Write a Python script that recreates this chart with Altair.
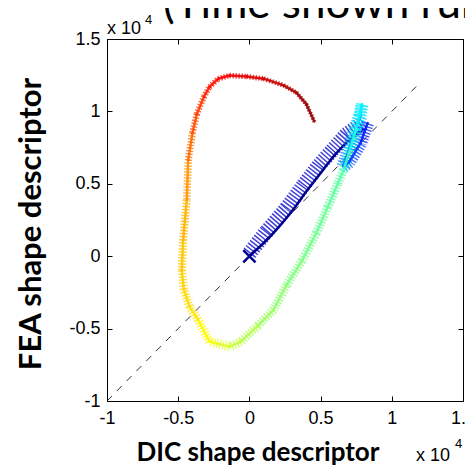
import altair as alt
import pandas as pd

# ---- data (units of 10^4) ----
x_ticks = [-1, -0.5, 0, 0.5, 1, 1.5]
y_ticks = [-1, -0.5, 0, 0.5, 1, 1.5]
diag_x = [-1, 1.2]
diag_y = [-1, 1.2]

# early (dark blue) part of the trajectory
core_x = [0.0, 0.15, 0.29, 0.41, 0.52, 0.60, 0.70, 0.80]
core_y = [0.0, 0.14, 0.30, 0.46, 0.60, 0.70, 0.80, 0.88]
hatch_x = [0.0, 0.12, 0.26, 0.38, 0.49, 0.58, 0.68, 0.80]
hatch_y = [0.02, 0.17, 0.33, 0.49, 0.63, 0.73, 0.84, 0.92]

# rest of the trajectory, coloured by normalised time t
path_x = [0.83, 0.78, 0.70, 0.66, 0.72, 0.78, 0.79, 0.75, 0.70, 0.66, 0.62, 0.55, 0.47,
          0.37, 0.26, 0.17, 0.06, -0.06, -0.14, -0.24, -0.28, -0.36, -0.42, -0.46, -0.475,
          -0.465, -0.44, -0.43, -0.40, -0.37, -0.32, -0.28, -0.22, -0.14, -0.02, 0.10,
          0.24, 0.33, 0.40, 0.456]
path_y = [0.92, 0.78, 0.65, 0.62, 0.80, 0.97, 1.05, 0.88, 0.72, 0.59, 0.50, 0.34, 0.16,
          -0.03, -0.20, -0.37, -0.48, -0.59, -0.625, -0.60, -0.59, -0.44, -0.35, -0.23, -0.10,
          0.11, 0.39, 0.66, 0.85, 0.98, 1.10, 1.17, 1.225, 1.248, 1.241, 1.226,
          1.18, 1.13, 1.05, 0.93]
path_t = [0.15, 0.18, 0.22, 0.25, 0.30, 0.34, 0.37, 0.40, 0.43, 0.46, 0.47, 0.48, 0.49,
          0.50, 0.515, 0.53, 0.55, 0.57, 0.59, 0.62, 0.63, 0.65, 0.66, 0.67, 0.68,
          0.70, 0.73, 0.77, 0.80, 0.82, 0.845, 0.86, 0.875, 0.89, 0.91, 0.93,
          0.95, 0.965, 0.98, 1.0]

start_x = [0.0]
start_y = [0.0]

jet_domain = [0, 0.125, 0.375, 0.625, 0.875, 1]
jet_range = ["#000080", "#0000ff", "#00ffff", "#ffff00", "#ff0000", "#800000"]


def segs(xs, ys, ts=None):
    df = pd.DataFrame({"x": xs, "y": ys})
    if ts is not None:
        df["t"] = ts
    df["x2"] = df["x"].shift(-1)
    df["y2"] = df["y"].shift(-1)
    return df.dropna()


path_df = segs(path_x, path_y, path_t)
core_df = pd.DataFrame({"x": core_x, "y": core_y})
hatch_df = segs(hatch_x, hatch_y)
diag_df = pd.DataFrame({"x": diag_x, "y": diag_y})
start_df = pd.DataFrame({"x": start_x, "y": start_y})

xs = alt.Scale(domain=[-1, 1.5], nice=False, zero=False)
ys = alt.Scale(domain=[-1, 1.5], nice=False, zero=False)
jet = alt.Scale(domain=jet_domain, range=jet_range, interpolate="rgb")
wscale = alt.Scale(domain=[0, 0.3, 0.45, 0.6, 0.7, 0.85, 1], range=[12, 14, 9, 9, 8, 6, 4])

LAB = "'' + datum.value"
FONT = "Liberation Sans"

ax_x_lab = alt.Axis(orient="bottom", values=x_ticks, ticks=False, tickSize=0, domain=False,
                    grid=False, labelExpr=LAB, labelFont=FONT, labelFontSize=18,
                    labelColor="black", labelPadding=8, labelFlush=False, labelOverlap=False,
                    title=None)
ax_y_lab = alt.Axis(orient="left", values=y_ticks, ticks=False, tickSize=0, domain=False,
                    grid=False, labelExpr=LAB, labelFont=FONT, labelFontSize=18,
                    labelColor="black", labelPadding=7, labelFlush=False, labelOverlap=False,
                    title=None)


def tick_axis(orient, vals):
    return alt.Axis(orient=orient, values=vals, labels=False, domain=False, grid=False,
                    ticks=True, tickSize=5, offset=-5, tickColor="black", tickWidth=1,
                    title=None)


diag = alt.Chart(diag_df).mark_line(color="black", strokeWidth=0.8, strokeDash=[7, 7]).encode(
    x=alt.X("x:Q", scale=xs, axis=ax_x_lab),
    y=alt.Y("y:Q", scale=ys, axis=ax_y_lab),
)

thick = alt.Chart(path_df).mark_rule(strokeDash=[1.4, 1.6], strokeCap="butt", opacity=0.75).encode(
    x=alt.X("x:Q", scale=xs, axis=tick_axis("bottom", x_ticks)),
    y=alt.Y("y:Q", scale=ys, axis=tick_axis("left", y_ticks)),
    x2="x2:Q", y2="y2:Q",
    color=alt.Color("t:Q", scale=jet, legend=None),
    strokeWidth=alt.StrokeWidth("t:Q", scale=wscale, legend=None),
)

thin = alt.Chart(path_df).mark_rule(strokeWidth=2.5, strokeCap="round", opacity=0.9).encode(
    x=alt.X("x:Q", scale=xs, axis=tick_axis("top", x_ticks)),
    y=alt.Y("y:Q", scale=ys, axis=tick_axis("right", y_ticks)),
    x2="x2:Q", y2="y2:Q",
    color=alt.Color("t:Q", scale=jet, legend=None),
)

hatch = alt.Chart(hatch_df).mark_rule(strokeWidth=15, strokeDash=[1.5, 1.8], strokeCap="butt",
                                      color="#2a2ad2", opacity=0.9).encode(
    x=alt.X("x:Q", scale=xs, axis=None),
    y=alt.Y("y:Q", scale=ys, axis=None),
    x2="x2:Q", y2="y2:Q",
)

core = alt.Chart(core_df).mark_line(color="#00008b", strokeWidth=2.5, interpolate="monotone").encode(
    x=alt.X("x:Q", scale=xs, axis=None),
    y=alt.Y("y:Q", scale=ys, axis=None),
)

start = alt.Chart(start_df).mark_point(shape="M-1,-1L1,1M-1,1L1,-1", size=150, filled=False,
                                       color="#00008b", strokeWidth=2.5, opacity=1).encode(
    x=alt.X("x:Q", scale=xs, axis=None),
    y=alt.Y("y:Q", scale=ys, axis=None),
)


def label(text, x, y, size, weight="normal", font="Lato", angle=0, align="left",
          baseline="alphabetic"):
    return alt.Chart(alt.Data(values=[{}])).mark_text(
        text=text, fontSize=size, fontWeight=weight, font=font, angle=angle, align=align,
        baseline=baseline, color="black").encode(x=alt.value(x), y=alt.value(y))


texts = [
    label("(Time shown running from blue to red)", 56, -21, 44),
    label("DIC shape descriptor", 151, 422, 26, weight="bold", align="center"),
    label("FEA shape descriptor", -75, 185, 31, weight="bold", angle=270, align="center",
          baseline="middle"),
    label("x 10", 0, -5.5, 18, font=FONT),
    label("4", 38, -15.5, 13, font=FONT),
    label("x 10", 309, 421.5, 18, font=FONT),
    label("4", 348, 408.5, 13, font=FONT),
]

chart = alt.layer(diag, hatch, core, thick, thin, start, *texts).resolve_axis(
    x="independent", y="independent"
).properties(
    width=356, height=362,
    autosize=alt.AutoSizeParams(type="none"),
    padding={"left": 99, "top": 31, "right": 2, "bottom": 66},
).configure_view(stroke="black", strokeWidth=1)

chart.save("out.html", embed_options={"renderer": "svg", "actions": False})
